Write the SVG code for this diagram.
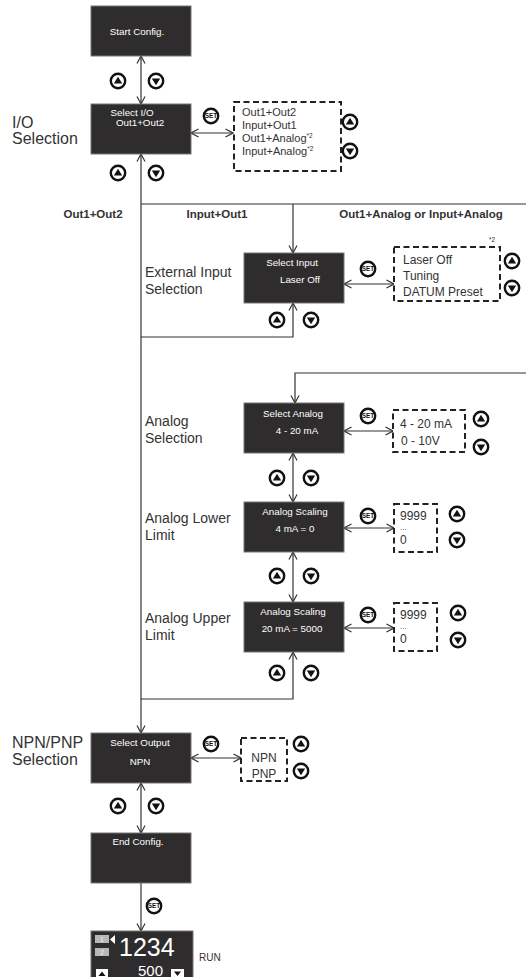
<svg xmlns="http://www.w3.org/2000/svg" xmlns:xlink="http://www.w3.org/1999/xlink" width="526" height="977" viewBox="0 0 526 977">
<style>
.box{fill:#2e2c2d;stroke:#777;stroke-width:1}
.bt{font-family:"Liberation Sans",Arial,sans-serif;font-size:9.8px;fill:#fff;text-anchor:middle}
.lbl{font-family:"Liberation Sans",Arial,sans-serif;font-size:14px;fill:#333}
.lbl16{font-family:"Liberation Sans",Arial,sans-serif;font-size:16px;fill:#333}
.bold{font-family:"Liberation Sans",Arial,sans-serif;font-size:11.5px;font-weight:bold;fill:#333;text-anchor:middle}
.opt{fill:#fff;stroke:#222;stroke-width:2;stroke-dasharray:6 3.5}
.ot{font-family:"Liberation Sans",Arial,sans-serif;font-size:12px;fill:#333}
.ot11{font-family:"Liberation Sans",Arial,sans-serif;font-size:11px;fill:#333}
.dots{font-family:"Liberation Sans",Arial,sans-serif;font-size:8px;fill:#333}
.sup{font-family:"Liberation Sans",Arial,sans-serif;font-size:6.5px;fill:#333}
.ln{fill:none;stroke:#333;stroke-width:1.2}
.btn{fill:#fff;stroke:#111;stroke-width:2.4}
.tri{fill:#111}
.st{font-family:"Liberation Sans",Arial,sans-serif;font-size:6.4px;font-weight:bold;fill:#111;text-anchor:middle}
</style>
<defs>
<marker id="ah" viewBox="0 0 10 10" refX="9.5" refY="5" markerWidth="10" markerHeight="10" markerUnits="userSpaceOnUse" orient="auto-start-reverse">
<path d="M2,1 L9.5,5 L2,9" fill="none" stroke="#333" stroke-width="1.2"/>
</marker>
<g id="up"><circle class="btn" r="7.2"/><path class="tri" d="M-4.2,2.5 L4.2,2.5 L0,-4.2Z"/></g>
<g id="dn"><circle class="btn" r="7.2"/><path class="tri" d="M-4.2,-2.5 L4.2,-2.5 L0,4.2Z"/></g>
<g id="set"><circle class="btn" r="7.2"/><text class="st" y="2.3">SET</text></g>
</defs>

<g id="connectors">
<path class="ln" d="M141,56 V104" marker-start="url(#ah)" marker-end="url(#ah)"/>
<path class="ln" d="M191,133 H233" marker-start="url(#ah)" marker-end="url(#ah)"/>
<path class="ln" d="M141,154 V733" marker-start="url(#ah)" marker-end="url(#ah)"/>
<path class="ln" d="M141,204 H526"/>
<path class="ln" d="M293,204 V253" marker-end="url(#ah)"/>
<path class="ln" d="M344,284 H394" marker-start="url(#ah)" marker-end="url(#ah)"/>
<path class="ln" d="M141,337 H293 V303" marker-end="url(#ah)"/>
<path class="ln" d="M526,373 H295 V403" marker-end="url(#ah)"/>
<path class="ln" d="M344,431 H393" marker-start="url(#ah)" marker-end="url(#ah)"/>
<path class="ln" d="M293,453 V502" marker-start="url(#ah)" marker-end="url(#ah)"/>
<path class="ln" d="M344,528 H394" marker-start="url(#ah)" marker-end="url(#ah)"/>
<path class="ln" d="M293,552 V602" marker-start="url(#ah)" marker-end="url(#ah)"/>
<path class="ln" d="M344,628 H394" marker-start="url(#ah)" marker-end="url(#ah)"/>
<path class="ln" d="M141,699 H293 V652" marker-end="url(#ah)"/>
<path class="ln" d="M191,758 H241" marker-start="url(#ah)" marker-end="url(#ah)"/>
<path class="ln" d="M141,783 V833" marker-start="url(#ah)" marker-end="url(#ah)"/>
<path class="ln" d="M141,883 V931" marker-end="url(#ah)"/>
</g>

<g id="buttons">
<use xlink:href="#up" x="118" y="81"/><use xlink:href="#dn" x="156" y="81"/>
<use xlink:href="#set" x="211" y="116"/>
<use xlink:href="#up" x="350" y="122"/><use xlink:href="#dn" x="350" y="151"/>
<use xlink:href="#up" x="118" y="173"/><use xlink:href="#dn" x="156" y="173"/>
<use xlink:href="#set" x="368" y="269"/>
<use xlink:href="#up" x="512" y="261"/><use xlink:href="#dn" x="512" y="288"/>
<use xlink:href="#up" x="277" y="320"/><use xlink:href="#dn" x="311" y="320"/>
<use xlink:href="#set" x="368" y="416"/>
<use xlink:href="#up" x="481" y="419"/><use xlink:href="#dn" x="481" y="447"/>
<use xlink:href="#up" x="277" y="478"/><use xlink:href="#dn" x="311" y="478"/>
<use xlink:href="#set" x="368" y="516"/>
<use xlink:href="#up" x="457" y="514"/><use xlink:href="#dn" x="457" y="540"/>
<use xlink:href="#up" x="277" y="576"/><use xlink:href="#dn" x="311" y="576"/>
<use xlink:href="#set" x="368" y="615"/>
<use xlink:href="#up" x="458" y="613"/><use xlink:href="#dn" x="458" y="640"/>
<use xlink:href="#up" x="277" y="673"/><use xlink:href="#dn" x="311" y="673"/>
<use xlink:href="#set" x="211" y="744"/>
<use xlink:href="#up" x="301" y="744"/><use xlink:href="#dn" x="301" y="771"/>
<use xlink:href="#up" x="118" y="806"/><use xlink:href="#dn" x="156" y="806"/>
<use xlink:href="#set" x="154" y="906"/>
</g>

<g id="labels">
<text class="lbl16" x="12" y="128">I/O</text>
<text class="lbl16" x="12" y="144">Selection</text>
<text class="bold" x="93" y="218">Out1+Out2</text>
<text class="bold" x="217" y="218">Input+Out1</text>
<text class="bold" x="421" y="218">Out1+Analog or Input+Analog</text>
<text class="lbl" x="145" y="277">External Input</text>
<text class="lbl" x="145" y="294">Selection</text>
<text class="lbl" x="145" y="426">Analog</text>
<text class="lbl" x="145" y="443">Selection</text>
<text class="lbl" x="145" y="523">Analog Lower</text>
<text class="lbl" x="145" y="540">Limit</text>
<text class="lbl" x="145" y="623">Analog Upper</text>
<text class="lbl" x="145" y="640">Limit</text>
<text class="lbl16" x="12" y="748">NPN/PNP</text>
<text class="lbl16" x="12" y="765">Selection</text>
<text class="ot" x="199" y="961" style="font-size:10px">RUN</text>
</g>

<g id="startConfig">
<rect class="box" x="91" y="6" width="100" height="50"/>
<text class="bt" x="137" y="35">Start Config.</text>
</g>

<g id="selectIO">
<rect class="box" x="91" y="104" width="100" height="50"/>
<text class="bt" x="132" y="116">Select I/O</text>
<text class="bt" x="140" y="126">Out1+Out2</text>
</g>

<g id="ioOptions">
<rect class="opt" x="234" y="102" width="107" height="69"/>
<text class="ot11" x="242" y="116">Out1+Out2</text>
<text class="ot11" x="242" y="129">Input+Out1</text>
<text class="ot11" x="242" y="142">Out1+Analog<tspan class="sup" dy="-4">*2</tspan></text>
<text class="ot11" x="242" y="155">Input+Analog<tspan class="sup" dy="-4">*2</tspan></text>
</g>

<g id="selectInput">
<rect class="box" x="244" y="253" width="100" height="50"/>
<text class="bt" x="292" y="266">Select Input</text>
<text class="bt" x="300" y="283">Laser Off</text>
</g>

<g id="inputOptions">
<text class="sup" x="489" y="242">*2</text>
<rect class="opt" x="394" y="247" width="106" height="54"/>
<text class="ot" x="403" y="264">Laser Off</text>
<text class="ot" x="403" y="280">Tuning</text>
<text class="ot" x="403" y="296">DATUM Preset</text>
</g>

<g id="selectAnalog">
<rect class="box" x="244" y="403" width="100" height="50"/>
<text class="bt" x="293" y="417">Select Analog</text>
<text class="bt" x="297" y="434">4 - 20 mA</text>
</g>

<g id="analogOptions">
<rect class="opt" x="393" y="410" width="72" height="42"/>
<text class="ot" x="400" y="428">4 - 20 mA</text>
<text class="ot" x="401" y="445">0 - 10V</text>
</g>

<g id="analogLower">
<rect class="box" x="244" y="502" width="100" height="50"/>
<text class="bt" x="295" y="515">Analog Scaling</text>
<text class="bt" x="295" y="532">4 mA = 0</text>
</g>

<g id="lowerOptions">
<rect class="opt" x="394" y="504" width="43" height="48"/>
<text class="ot" x="400" y="520">9999</text>
<text class="dots" x="400" y="530">...</text>
<text class="ot" x="400" y="544">0</text>
</g>

<g id="analogUpper">
<rect class="box" x="244" y="602" width="100" height="50"/>
<text class="bt" x="293" y="615">Analog Scaling</text>
<text class="bt" x="292" y="632">20 mA = 5000</text>
</g>

<g id="upperOptions">
<rect class="opt" x="394" y="603" width="43" height="48"/>
<text class="ot" x="400" y="619">9999</text>
<text class="dots" x="400" y="629">...</text>
<text class="ot" x="400" y="643">0</text>
</g>

<g id="selectOutput">
<rect class="box" x="91" y="733" width="100" height="50"/>
<text class="bt" x="140" y="746">Select Output</text>
<text class="bt" x="140" y="765">NPN</text>
</g>

<g id="outputOptions">
<rect class="opt" x="241" y="738" width="46" height="43"/>
<text class="ot" x="264" y="762" text-anchor="middle">NPN</text>
<text class="ot" x="264" y="778" text-anchor="middle">PNP</text>
</g>

<g id="endConfig">
<rect class="box" x="91" y="833" width="100" height="50"/>
<text class="bt" x="138" y="845">End Config.</text>
</g>

<g id="runDisplay">
<rect class="box" x="91" y="931" width="102" height="52"/>
<rect x="95" y="935" width="14" height="8" fill="#b8b8b8"/>
<text x="102" y="942" font-family="Liberation Sans, Arial, sans-serif" font-size="7" fill="#f2f2f2" text-anchor="middle">1</text>
<rect x="95" y="948" width="14" height="8" fill="#b8b8b8"/>
<text x="102" y="955" font-family="Liberation Sans, Arial, sans-serif" font-size="7" fill="#f2f2f2" text-anchor="middle">2</text>
<path d="M110,939.5 L115,935 L115,944Z" fill="#fff"/>
<text x="119" y="956" font-family="Liberation Sans, Arial, sans-serif" font-size="25" fill="#fff">1234</text>
<text x="138" y="976" font-family="Liberation Sans, Arial, sans-serif" font-size="15" fill="#fff">500</text>
<rect x="96" y="969" width="12" height="10" fill="#fff"/>
<path d="M98.5,976 L105.5,976 L102,971.5Z" fill="#111"/>
<rect x="171" y="969" width="13" height="10" fill="#fff"/>
<path d="M174,971.5 L181,971.5 L177.5,976Z" fill="#111"/>
</g>
</svg>
